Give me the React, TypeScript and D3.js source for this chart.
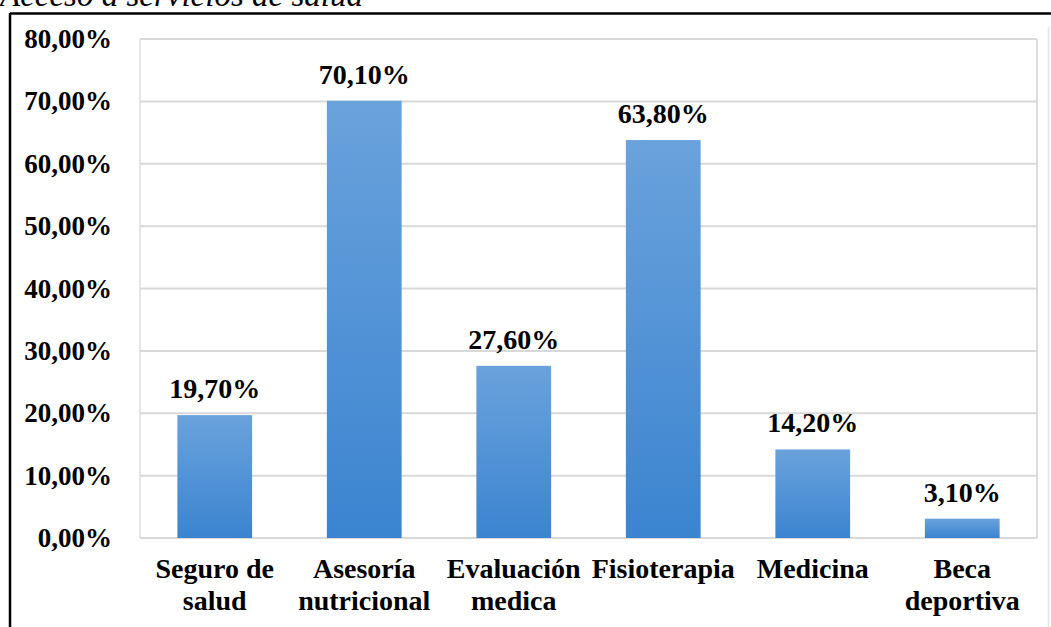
import React from "react";
import * as d3 from "d3";

const categories: string[][] = [
  ["Seguro de", "salud"],
  ["Asesoría", "nutricional"],
  ["Evaluación", "medica"],
  ["Fisioterapia"],
  ["Medicina"],
  ["Beca", "deportiva"],
];
const values: number[] = [0.197, 0.701, 0.276, 0.638, 0.142, 0.031];
const valueLabels: string[] = ["19,70%", "70,10%", "27,60%", "63,80%", "14,20%", "3,10%"];
const yTicks: number[] = [0, 0.1, 0.2, 0.3, 0.4, 0.5, 0.6, 0.7, 0.8];
const title = "Acceso a servicios de salud";

const W = 1051;
const H = 627;
const plot = { left: 140, right: 1037, top: 39, bottom: 538 };
const font = "'Liberation Serif', 'Times New Roman', serif";

export default function App() {
  const keys = categories.map((c) => c.join(" "));
  const x = d3
    .scaleBand<string>()
    .domain(keys)
    .range([plot.left, plot.right])
    .paddingInner(0.5)
    .paddingOuter(0.25);
  const y = d3.scaleLinear().domain([0, 0.8]).range([plot.bottom, plot.top]);
  const fmt = (v: number) => d3.format(".2f")(v * 100).replace(".", ",") + "%";

  return (
    <svg
      width={W}
      height={H}
      style={{ position: "absolute", left: 0, top: 0, background: "#fff" }}
    >
      <defs>
        <linearGradient id="barGrad" x1="0" y1="0" x2="0" y2="1">
          <stop offset="0%" stopColor="#6aa2dc" />
          <stop offset="100%" stopColor="#3b84d0" />
        </linearGradient>
      </defs>
      <rect x={0} y={0} width={W} height={H} fill="#fff" />
      <text
        x={0}
        y={6}
        fontFamily={font}
        fontStyle="italic"
        fontSize={33}
        fill="#000"
      >
        {title}
      </text>
      {/* black frame */}
      <line x1={10} x2={W} y1={13.5} y2={13.5} stroke="#000" strokeWidth={2.5} />
      <line x1={10} x2={10} y1={13} y2={H} stroke="#000" strokeWidth={2.5} />
      <line x1={1048.5} x2={1048.5} y1={27} y2={H} stroke="#e4e4e4" strokeWidth={1.5} />
      {/* gridlines */}
      {yTicks.map((t) => (
        <line
          key={t}
          x1={plot.left}
          x2={plot.right}
          y1={y(t)}
          y2={y(t)}
          stroke="#d9d9d9"
          strokeWidth={2}
        />
      ))}
      <line x1={plot.left} x2={plot.left} y1={plot.top} y2={plot.bottom} stroke="#dcdcdc" strokeWidth={1.5} />
      <line x1={plot.right} x2={plot.right} y1={plot.top} y2={plot.bottom} stroke="#dcdcdc" strokeWidth={2} />
      {/* y tick labels */}
      {yTicks.map((t) => (
        <text
          key={"l" + t}
          x={112}
          y={y(t)}
          textAnchor="end"
          dominantBaseline="central"
          fontFamily={font}
          fontWeight="bold"
          fontSize={27}
          fill="#000"
        >
          {fmt(t)}
        </text>
      ))}
      {/* bars */}
      {values.map((v, i) => (
        <rect
          key={"b" + i}
          x={x(keys[i])}
          y={y(v)}
          width={x.bandwidth()}
          height={y(0) - y(v)}
          fill="url(#barGrad)"
        />
      ))}
      {/* value labels */}
      {values.map((v, i) => (
        <text
          key={"v" + i}
          x={(x(keys[i]) as number) + x.bandwidth() / 2}
          y={y(v) - 17}
          textAnchor="middle"
          fontFamily={font}
          fontWeight="bold"
          fontSize={28}
          fill="#000"
        >
          {valueLabels[i]}
        </text>
      ))}
      {/* category labels */}
      {categories.map((lines, i) => (
        <text
          key={"c" + i}
          textAnchor="middle"
          fontFamily={font}
          fontWeight="bold"
          fontSize={28}
          fill="#000"
        >
          {lines.map((ln, j) => (
            <tspan
              key={j}
              x={(x(keys[i]) as number) + x.bandwidth() / 2}
              y={578 + j * 32}
            >
              {ln}
            </tspan>
          ))}
        </text>
      ))}
    </svg>
  );
}
